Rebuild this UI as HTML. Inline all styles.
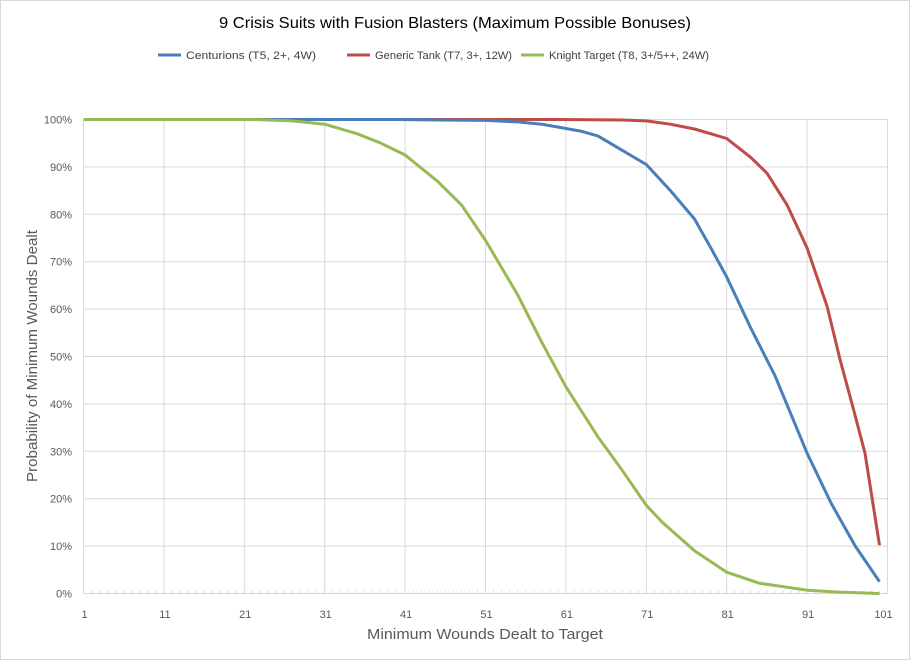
<!DOCTYPE html>
<html><head><meta charset="utf-8"><style>
html,body{margin:0;padding:0;background:#fff}
svg{display:block;font-family:"Liberation Sans",sans-serif}
</style></head><body>
<svg id="chart" width="910" height="660" viewBox="0 0 910 660">
<rect x="0.5" y="0.5" width="909" height="659" fill="#fff" stroke="#d9d9d9"/>
<text x="455" y="28" text-anchor="middle" font-size="16" fill="#000" textLength="472" lengthAdjust="spacingAndGlyphs">9 Crisis Suits with Fusion Blasters (Maximum Possible Bonuses)</text>
<g>
<g><line x1="158" y1="55" x2="181" y2="55" stroke="#4a7ebb" stroke-width="3"/><text x="186" y="59" font-size="11" fill="#404040" textLength="130" lengthAdjust="spacingAndGlyphs">Centurions (T5, 2+, 4W)</text></g>
<g><line x1="347" y1="55" x2="370" y2="55" stroke="#be4b48" stroke-width="3"/><text x="375" y="59" font-size="11" fill="#404040" textLength="137" lengthAdjust="spacingAndGlyphs">Generic Tank (T7, 3+, 12W)</text></g>
<g><line x1="521" y1="55" x2="544" y2="55" stroke="#98b954" stroke-width="3"/><text x="549" y="59" font-size="11" fill="#404040" textLength="160" lengthAdjust="spacingAndGlyphs">Knight Target (T8, 3+/5++, 24W)</text></g>
</g>
<g id="grid"></g>
<g id="axes"></g>
<g id="series"></g>
<text x="485" y="639" text-anchor="middle" font-size="15" fill="#595959" textLength="236" lengthAdjust="spacingAndGlyphs">Minimum Wounds Dealt  to Target</text>
<text transform="translate(37,356) rotate(-90)" text-anchor="middle" font-size="15" fill="#595959" textLength="252" lengthAdjust="spacingAndGlyphs">Probability of Minimum Wounds Dealt</text>
</svg>
<script>
const xTicks = [1,11,21,31,41,51,61,71,81,91,101];
const yTicks = [0,10,20,30,40,50,60,70,80,90,100];
const centurionsX = [1,40,45,51,55,58,61,63,65,68,71,74,77,79,81,84,87,91,94,97,100];
const centurionsY = [1,1,0.999,0.998,0.995,0.99,0.981,0.975,0.965,0.935,0.905,0.85,0.79,0.73,0.668,0.56,0.46,0.296,0.19,0.10,0.025];
const tankX = [1,60,68,71,74,77,79,81,84,86,88.5,91,93.5,95.1,96.8,98.2,100];
const tankY = [1,1,0.999,0.997,0.99,0.98,0.97,0.96,0.92,0.887,0.82,0.729,0.605,0.493,0.387,0.296,0.102];
const knightX = [1,22,27,31,35,38,41,45,48,51,55,58,61,65,68,71,73,77,81,85,91,95,100];
const knightY = [1,1,0.997,0.99,0.97,0.95,0.925,0.87,0.82,0.745,0.63,0.53,0.436,0.33,0.26,0.186,0.15,0.09,0.045,0.022,0.007,0.003,0];
const NS='http://www.w3.org/2000/svg';
const X0=83.5, XS=8.04, Y0=593.5, YH=474;
function sx(v){return X0+(v-1)*XS;}
function sy(p){return Y0-p*YH;}
const grid=document.getElementById('grid'), axes=document.getElementById('axes'), ser=document.getElementById('series');
function mk(tag,attrs,parent){const e=document.createElementNS(NS,tag);for(const k in attrs)e.setAttribute(k,attrs[k]);parent.appendChild(e);return e;}
yTicks.forEach(t=>{
  const y=sy(t/100);
  const l=mk('line',{x1:sx(1),x2:sx(101),y1:y,y2:y,stroke:'#d9d9d9','stroke-width':1},grid);
  
  
  const tx=mk('text',{x:72,y:y+4,'text-anchor':'end','font-size':11,fill:'#595959'},axes);
  tx.textContent=t+'%';
  
  
});
xTicks.forEach(t=>{
  const x=sx(t);
  const l=mk('line',{x1:x,x2:x,y1:sy(1),y2:sy(0),stroke:'#d9d9d9','stroke-width':1},grid);
  
  
  const tx=mk('text',{x:t===101?x-4:x+1,y:618,'text-anchor':'middle','font-size':11,fill:'#595959'},axes);
  tx.textContent=t;
  
  
});
for(let i=1;i<=101;i++){
  const x=sx(i);
  const m=mk('line',{x1:x,x2:x,y1:sy(0),y2:sy(0)-3,stroke:'#d9d9d9','stroke-width':1},axes);
  
  
}
function draw(xs,ys,color,name){
  const pts=xs.map((v,i)=>sx(v).toFixed(1)+','+sy(ys[i]).toFixed(1)).join(' ');
  const p=mk('polyline',{points:pts,fill:'none',stroke:color,'stroke-width':3,'stroke-linejoin':'round'},ser);
  
  
}
draw(tankX,tankY,'#be4b48','generic-tank-line');
draw(centurionsX,centurionsY,'#4a7ebb','centurions-line');
draw(knightX,knightY,'#98b954','knight-target-line');
</script>
</body></html>
